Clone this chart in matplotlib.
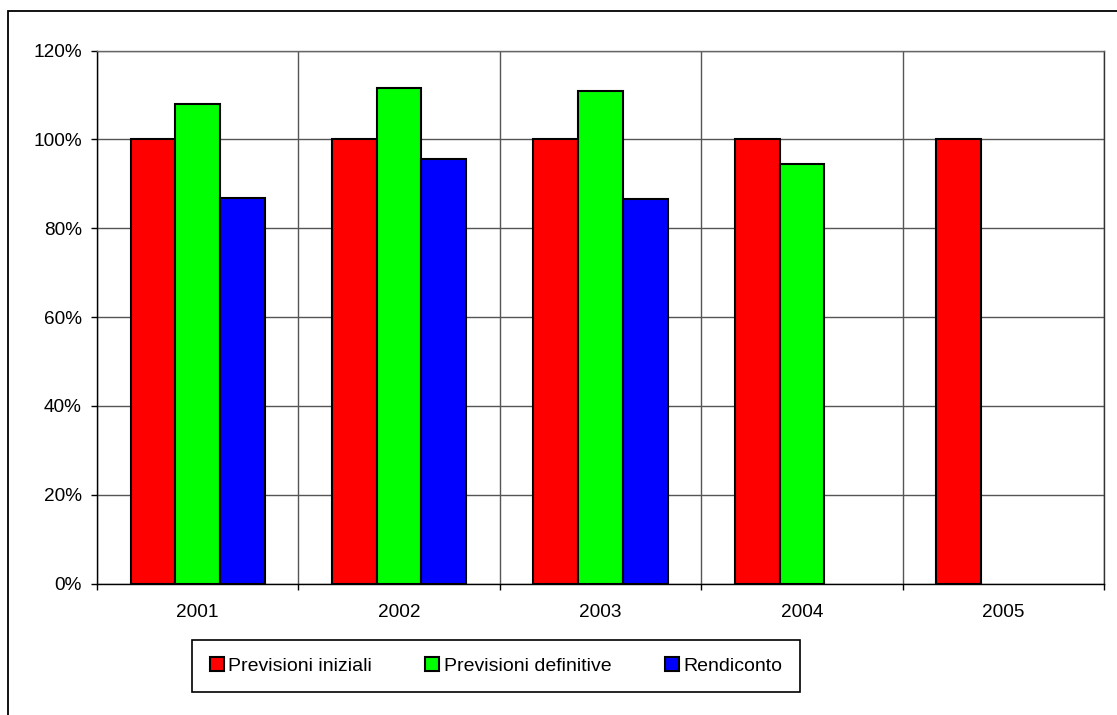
import numpy as np
import matplotlib.pyplot as plt
from matplotlib.patches import Rectangle
from matplotlib.ticker import MultipleLocator, PercentFormatter, FixedLocator

plt.rcParams['font.family'] = ['Liberation Sans', 'DejaVu Sans']

anni = ['2001', '2002', '2003', '2004', '2005']
previsioni_iniziali = [100, 100, 100, 100, 100]
previsioni_definitive = [107.9, 111.5, 110.9, 94.5, np.nan]
rendiconto = [86.7, 95.5, 86.6, np.nan, np.nan]

serie = [
    ('Previsioni iniziali', previsioni_iniziali, '#FF0000'),
    ('Previsioni definitive', previsioni_definitive, '#00FF00'),
    ('Rendiconto', rendiconto, '#0000FF'),
]

fs = 13.7

fig = plt.figure(figsize=(11.17, 7.15), dpi=100)
ax = fig.add_axes([97 / 1117, 1 - 583.5 / 715, (1104 - 97) / 1117, (583.5 - 50.5) / 715])

x = np.arange(len(anni))
w = 1 / 4.5
for k, (nome, valori, colore) in enumerate(serie):
    ax.bar(x + (k - 1) * w, valori, w, color=colore, edgecolor='black',
           linewidth=1.5, label=nome, zorder=3)

ax.set_xlim(-0.5, len(anni) - 0.5)
ax.set_ylim(0, 120)
ax.yaxis.set_major_locator(MultipleLocator(20))
ax.yaxis.set_major_formatter(PercentFormatter(xmax=100, decimals=0))

ax.set_xticks(x)
ax.set_xticklabels(anni)
ax.xaxis.set_minor_locator(FixedLocator(np.arange(-0.5, len(anni), 1)))
ax.tick_params(axis='x', which='major', length=0, pad=15, labelsize=fs)
ax.tick_params(axis='x', which='minor', length=4, width=1, direction='out', color='black')
ax.tick_params(axis='y', length=4, width=1, direction='out', pad=7, labelsize=fs)

ax.grid(axis='y', which='major', color='#555555', linewidth=1, zorder=0)
ax.grid(axis='x', which='minor', color='#555555', linewidth=1, zorder=0)
ax.set_axisbelow(True)

ax.spines['left'].set_color('black')
ax.spines['bottom'].set_color('black')
ax.spines['top'].set_color('#666666')
ax.spines['right'].set_color('#333333')
for s in ax.spines.values():
    s.set_linewidth(1)

leg = fig.legend(loc='center', bbox_to_anchor=(192 / 1117, 1 - 694 / 715, 608 / 1117, 56 / 715),
                 mode='expand', ncol=3, fontsize=14, frameon=True, fancybox=False,
                 edgecolor='black', framealpha=1, borderpad=0.9,
                 handlelength=0.72, handleheight=0.72, handletextpad=0.25, borderaxespad=0)
leg.get_frame().set_linewidth(1.2)
for h in leg.legend_handles:
    h.set_linewidth(1.5)

# bordo dell'area del grafico
fig.patches.append(Rectangle((7.5 / 1117, -0.1), 1.2, 1.1 - 11 / 715, transform=fig.transFigure,
                             fill=False, edgecolor='black', linewidth=1.3))

fig.savefig('out.png', dpi=100)
